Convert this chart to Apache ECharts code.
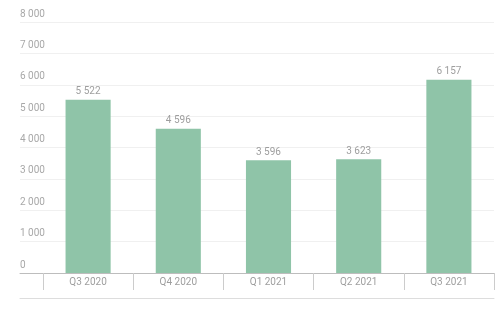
<!DOCTYPE html>
<html>
<head>
<meta charset="utf-8">
<script src="https://cdn.jsdelivr.net/npm/echarts@6/dist/echarts.min.js"></script>
<style>html,body{margin:0;padding:0;background:#fff}#c{width:504px;height:312px}</style>
</head>
<body>
<div id="c"></div>
<script>
var categories = ['Q3 2020', 'Q4 2020', 'Q1 2021', 'Q2 2021', 'Q3 2021'];
var values = [5522, 4596, 3596, 3623, 6157];
var yMin = 0, yMax = 8000, yStep = 1000;

function fmt(v) {
  return String(v).replace(/\B(?=(\d{3})+(?!\d))/g, ' ');
}

var chart = echarts.init(document.getElementById('c'), null, {renderer: 'canvas'});
var FONT = 'Roboto';
chart.setOption({
  animation: false,
  textStyle: {fontFamily: FONT},
  grid: [
    {left: 20, right: 10, top: 22, bottom: 39},
    {left: 43, right: 10, top: 22, bottom: 39}
  ],
  xAxis: [
    {gridIndex: 0, type: 'value', min: 0, max: 1, position: 'bottom',
     axisLine: {show: true, lineStyle: {color: '#bdbdbd', width: 1}},
     axisTick: {show: false}, axisLabel: {show: false}, splitLine: {show: false}},
    {gridIndex: 0, type: 'value', min: 0, max: 1, position: 'bottom', offset: 25,
     axisLine: {show: true, lineStyle: {color: '#dddddd', width: 1}},
     axisTick: {show: false}, axisLabel: {show: false}, splitLine: {show: false}},
    {gridIndex: 1, type: 'category', data: categories, position: 'bottom',
     axisLine: {show: false},
     axisTick: {show: true, length: 17, lineStyle: {color: '#cccccc'}},
     axisLabel: {color: '#9e9e9e', fontSize: 10, margin: 4, fontFamily: FONT}}
  ],
  yAxis: [
    {gridIndex: 0, type: 'value', min: yMin, max: yMax, interval: yStep,
     axisLine: {show: false}, axisTick: {show: false},
     axisLabel: {inside: true, margin: 0, align: 'left', verticalAlign: 'bottom',
       padding: [0, 0, 3, 0], color: '#a8a8a8', fontSize: 10, fontFamily: FONT,
       formatter: function (v) { return fmt(v); }},
     splitLine: {show: true, lineStyle: {color: '#f0f0f0', width: 1}}},
    {gridIndex: 1, type: 'value', min: yMin, max: yMax, interval: yStep, show: false}
  ],
  series: [{
    type: 'bar', xAxisIndex: 2, yAxisIndex: 1, data: values, barWidth: '50%',
    itemStyle: {color: '#8fc4a8'},
    label: {show: true, position: 'top', distance: 3, color: '#9e9e9e', fontSize: 10,
      fontFamily: FONT, formatter: function (p) { return fmt(p.value); }}
  }]
});
</script>
</body>
</html>
